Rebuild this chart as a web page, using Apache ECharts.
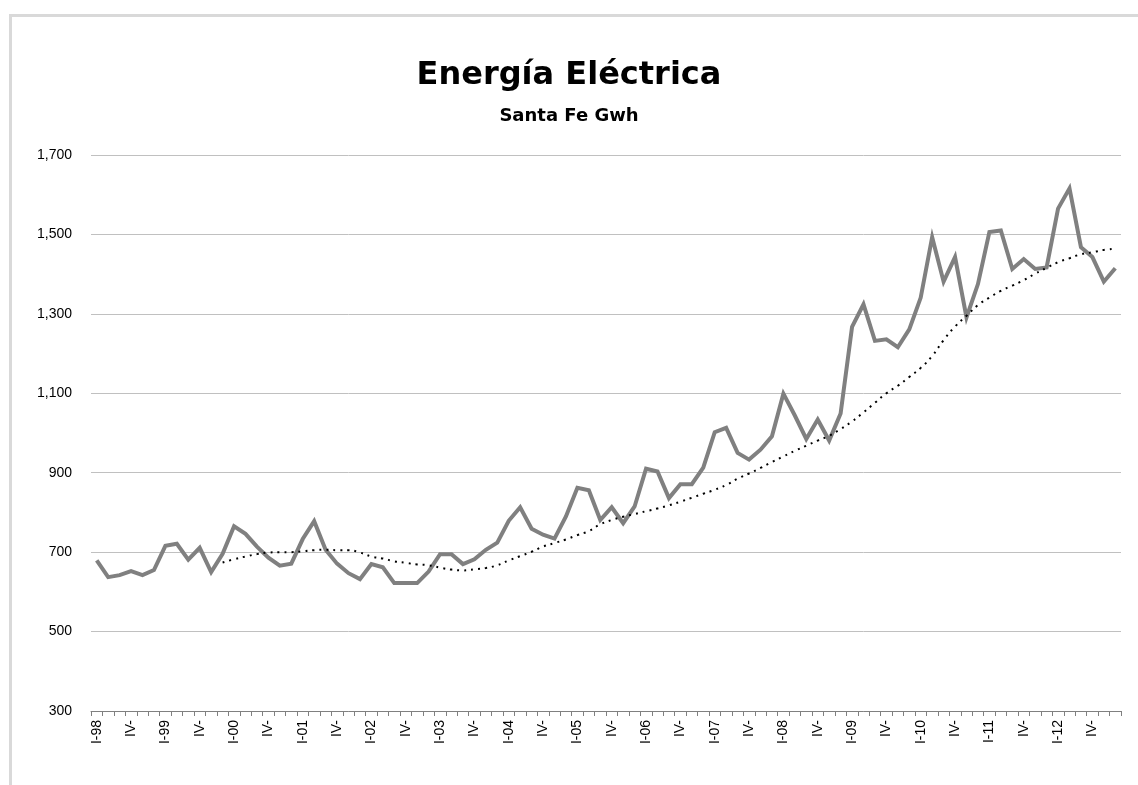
<!DOCTYPE html>
<html>
<head>
<meta charset="utf-8">
<title>Energía Eléctrica</title>
<script src="https://cdn.jsdelivr.net/npm/echarts@6/dist/echarts.min.js"></script>
<style>
  html, body { margin: 0; padding: 0; background: #fff; }
  #chart { width: 1138px; height: 785px; }
</style>
</head>
<body>
<div id="chart"></div>
<script>
// Bimonthly periods 1998–2012 (six bimestres per year)
const years = ['98','99','00','01','02','03','04','05','06','07','08','09','10','11','12'];
const bimesters = ['I','II','III','IV','V','VI'];
const categories = [];
years.forEach(y => bimesters.forEach(b => categories.push(b + '-' + y)));

// Electricity demand, Santa Fe (GWh per bimester)
const energy = [
  679, 637, 642, 652, 642, 655, 716, 721, 681, 711, 650, 696,
  765, 746, 714, 686, 666, 671, 733, 778, 706, 671, 647, 632,
  670, 662, 622, 622, 622, 651, 695, 695, 670, 682, 706, 724,
  779, 813, 759, 744, 734, 790, 862, 856, 781, 813, 773, 815,
  910, 903, 836, 871, 871, 913, 1002, 1013, 950, 933, 958, 992,
  1099, 1044, 985, 1034, 981, 1049, 1267, 1324, 1232, 1236, 1216, 1261,
  1341, 1493, 1381, 1443, 1291, 1375, 1506, 1510, 1413, 1438, 1413, 1417,
  1565, 1616, 1468, 1443, 1381, 1415
];

// Moving-average trend (12 periods), starting at the twelfth bimester
const trend = [
  null, null, null, null, null, null, null, null, null, null, null, 674,
  682, 689, 695, 699, 700, 700, 702, 705, 706, 705, 705, 699,
  689, 684, 677, 673, 669, 667, 661, 656, 654, 657, 660, 667,
  679, 690, 701, 714, 723, 732, 743, 753, 770, 781, 789, 796,
  803, 810, 818, 827, 837, 847, 857, 869, 885, 898, 912, 927,
  941, 955, 968, 981, 993, 1010, 1029, 1052, 1076, 1100, 1119, 1141,
  1164, 1194, 1234, 1268, 1295, 1322, 1341, 1358, 1371, 1385, 1401, 1416,
  1430, 1440, 1450, 1455, 1461, 1464
];

const yTicks = { min: 300, max: 1700, step: 200 };

const chart = echarts.init(document.getElementById('chart'), null, { renderer: 'canvas' });

chart.setOption({
  backgroundColor: '#ffffff',
  animation: false,
  title: [
    {
      text: 'Energía Eléctrica',
      left: 'center',
      top: 55,
      textStyle: { fontFamily: 'DejaVu Sans', fontWeight: 'bold', fontSize: 32, color: '#000' }
    },
    {
      text: 'Santa Fe Gwh',
      left: 'center',
      top: 102,
      textStyle: { fontFamily: 'DejaVu Sans', fontWeight: 'bold', fontSize: 18, color: '#000' }
    }
  ],
  graphic: [
    {
      type: 'rect',
      silent: true,
      shape: { x: 10.5, y: 15.5, width: 2000, height: 2000 },
      style: { fill: 'none', stroke: '#d9d9d9', lineWidth: 3 }
    }
  ],
  grid: { left: 91, right: 17, top: 155, bottom: 74, containLabel: false },
  xAxis: {
    type: 'category',
    data: categories,
    boundaryGap: true,
    axisLine: { show: true, lineStyle: { color: '#808080', width: 1 } },
    axisTick: { show: true, interval: 0, alignWithLabel: false, length: 5, lineStyle: { color: '#808080' } },
    axisLabel: {
      interval: 2,
      rotate: 90,
      margin: 9,
      fontFamily: 'Liberation Sans',
      fontSize: 14,
      color: '#000',
      formatter: v => {
        const b = v.split('-')[0];
        return b === 'I' ? v : b + '-';
      }
    },
    splitLine: { show: false }
  },
  yAxis: {
    type: 'value',
    min: yTicks.min,
    max: yTicks.max,
    interval: yTicks.step,
    axisLine: { show: false },
    axisTick: { show: false },
    axisLabel: {
      margin: 19,
      fontFamily: 'Liberation Sans',
      fontSize: 14,
      color: '#000',
      formatter: v => v.toLocaleString('en-US')
    },
    splitLine: { show: true, lineStyle: { color: '#c0c0c0', width: 1 } }
  },
  series: [
    {
      name: 'Energía',
      type: 'line',
      data: energy,
      symbol: 'none',
      smooth: false,
      lineStyle: { color: '#808080', width: 4, join: 'miter' },
      z: 2
    },
    {
      name: 'Tendencia',
      type: 'line',
      data: trend,
      symbol: 'none',
      smooth: true,
      connectNulls: false,
      lineStyle: { color: '#000', width: 2, type: [2, 5], cap: 'butt' },
      z: 3
    }
  ]
});
</script>
</body>
</html>
